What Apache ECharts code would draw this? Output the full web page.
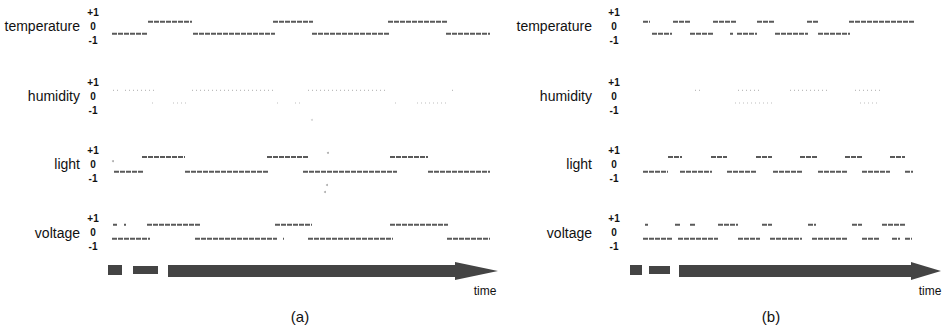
<!DOCTYPE html>
<html><head><meta charset="utf-8">
<script src="https://cdn.jsdelivr.net/npm/echarts@6/dist/echarts.min.js"></script>
<style>html,body{margin:0;padding:0;background:#fff}#c{width:945px;height:328px}</style>
</head><body><div id="c"></div>
<script>
// ---- data ----
const rowNames = ['temperature', 'humidity', 'light', 'voltage'];
const tickLabels = { '1': '+1', '0': '0', '-1': '-1' };
const panelLabels = ['(a)', '(b)'];
const timeLabel = 'time';
// signal levels (upper / lower) for each row
const levelHigh = [0.3, 0.4, 0.5, 0.55];
const levelLow = [-0.55, -0.5, -0.55, -0.45];
// time span of each panel
const timeSpanA = 380;
const timeSpanB = 275;

// panel (a): [start, end] time of each segment
const tempA_high = [[38, 82], [163, 203], [278, 337]];
const tempA_low = [[2, 38], [83, 165], [202, 279], [336, 380]];
const humA_high = [[3, 8], [15, 47], [82, 165], [198, 278], [342, 344]];
const humA_low = [[42, 43], [63, 77], [167, 168], [185, 190], [285, 286], [307, 337]];
const lightA_high = [[32, 75], [157, 198], [280, 318]];
const lightA_low = [[4, 33], [75, 158], [193, 287], [318, 380]];
const voltA_high = [[3, 7], [14, 16], [37, 90], [165, 202], [280, 338]];
const voltA_low = [[2, 40], [85, 167], [173, 174], [198, 283], [337, 380]];

// panel (b)
const tempB_high = [[3, 10], [33, 50], [73, 97], [117, 135], [167, 178], [209, 274]];
const tempB_low = [[12, 32], [50, 73], [90, 93], [97, 117], [135, 168], [178, 210]];
const humB_high = [[55, 60], [98, 120], [150, 190], [215, 240]];
const humB_low = [[95, 135], [220, 240]];
const lightB_high = [[28, 42], [71, 87], [116, 132], [160, 178], [205, 222], [250, 265]];
const lightB_low = [[3, 28], [40, 72], [87, 117], [133, 162], [178, 207], [222, 250], [265, 273]];
const voltB_high = [[5, 8], [35, 40], [50, 55], [78, 98], [122, 132], [168, 176], [212, 222], [242, 265]];
const voltB_low = [[3, 32], [38, 78], [98, 120], [130, 162], [172, 208], [222, 240], [252, 260], [265, 272]];

// stray samples: [time, value]
const lightA_stray = [[3, 0.2], [218, 0.8], [217, -1.5], [215, -2.0]];
const humA_stray = [[202, -1.7]];

const panels = [
  { high: [tempA_high, humA_high, lightA_high, voltA_high], low: [tempA_low, humA_low, lightA_low, voltA_low], span: timeSpanA },
  { high: [tempB_high, humB_high, lightB_high, voltB_high], low: [tempB_low, humB_low, lightB_low, voltB_low], span: timeSpanB }
];

// ---- layout ----
const FONT = 'Liberation Sans, Arial, sans-serif';
const rowCenters = [26, 96, 164, 232.5];
const panelLayout = [
  { left: 110, width: 380, labelMargin: 17, nameGap: 30 },
  { left: 640, width: 275, labelMargin: 26, nameGap: 48 }
];

function segData(segs, v) {
  const out = [];
  segs.forEach(s => { out.push([s[0], v], [s[1], v], [s[1], null]); });
  return out;
}

const grid = [], xAxis = [], yAxis = [], series = [];
panels.forEach((p, pi) => {
  const L = panelLayout[pi];
  rowNames.forEach((name, ri) => {
    const gi = grid.length;
    grid.push({ left: L.left, top: rowCenters[ri] - 14, width: L.width, height: 28 });
    xAxis.push({ gridIndex: gi, type: 'value', min: 0, max: p.span, show: false });
    yAxis.push({
      gridIndex: gi, type: 'value', min: -1, max: 1, interval: 1,
      axisLine: { show: false }, axisTick: { show: false }, splitLine: { show: false },
      axisLabel: {
        formatter: v => tickLabels[String(v)], align: 'center', margin: L.labelMargin,
        fontSize: 10, fontWeight: 'bold', color: '#111', fontFamily: FONT
      },
      name: name, nameLocation: 'middle', nameRotate: 0, nameGap: L.nameGap,
      nameTextStyle: { fontSize: 14, color: '#111', align: 'right', verticalAlign: 'middle', fontFamily: FONT }
    });
    const hum = ri === 1;
    const ls = hum ? { color: '#bdbdbd', width: 1.2, type: [1, 3] } : { color: '#5a5a5a', width: 2, type: [5, 1] };
    series.push({ type: 'line', xAxisIndex: gi, yAxisIndex: gi, symbol: 'none', silent: true,
      data: segData(p.high[ri], levelHigh[ri]), lineStyle: ls, connectNulls: false });
    series.push({ type: 'line', xAxisIndex: gi, yAxisIndex: gi, symbol: 'none', silent: true,
      data: segData(p.low[ri], levelLow[ri]), lineStyle: ls, connectNulls: false });
    if (pi === 0 && ri === 2) series.push({ type: 'scatter', xAxisIndex: gi, yAxisIndex: gi, clip: false,
      symbolSize: 2, itemStyle: { color: '#999' }, data: lightA_stray });
    if (pi === 0 && ri === 1) series.push({ type: 'scatter', xAxisIndex: gi, yAxisIndex: gi, clip: false,
      symbolSize: 2, itemStyle: { color: '#ccc' }, data: humA_stray });
  });
});

const titleStyle = { fontFamily: FONT, fontWeight: 'normal', color: '#111' };
const title = [
  { text: panelLabels[0], left: 300, top: 309, textAlign: 'center', padding: 0, textStyle: Object.assign({ fontSize: 15 }, titleStyle) },
  { text: panelLabels[1], left: 771, top: 309, textAlign: 'center', padding: 0, textStyle: Object.assign({ fontSize: 15 }, titleStyle) },
  { text: timeLabel, left: 485, top: 285, textAlign: 'center', padding: 0, textStyle: Object.assign({ fontSize: 12 }, titleStyle) },
  { text: timeLabel, left: 930, top: 285, textAlign: 'center', padding: 0, textStyle: Object.assign({ fontSize: 12 }, titleStyle) }
];

const AC = '#444';
function arrow(b1, b2, body, tipX) {
  return [
    { type: 'rect', shape: { x: b1[0], y: 265, width: b1[1], height: 10 }, style: { fill: AC } },
    { type: 'rect', shape: { x: b2[0], y: 266, width: b2[1], height: 8 }, style: { fill: AC } },
    { type: 'rect', shape: { x: body[0], y: 265, width: body[1], height: 12 }, style: { fill: AC } },
    { type: 'polygon', shape: { points: [[body[0] + body[1] - 4, 262], [tipX, 271], [body[0] + body[1] - 4, 280]] }, style: { fill: AC } }
  ];
}
const graphic = [].concat(
  arrow([108, 14], [133, 25], [168, 291], 498),
  arrow([630, 12], [649, 21], [679, 236], 941)
);

const chart = echarts.init(document.getElementById('c'), null, { renderer: 'svg' });
chart.setOption({ animation: false, backgroundColor: '#fff', title, grid, xAxis, yAxis, series, graphic });
</script></body></html>
